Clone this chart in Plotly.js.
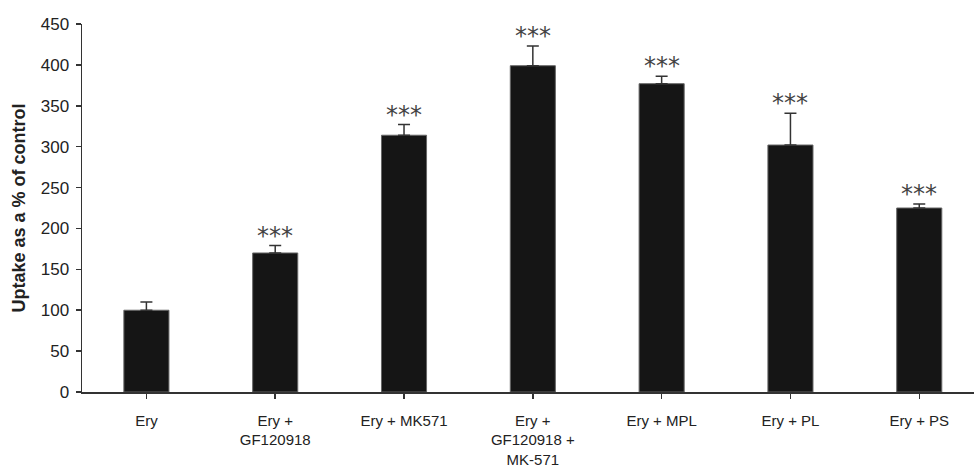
<!DOCTYPE html>
<html>
<head>
<meta charset="utf-8">
<script src="https://cdn.plot.ly/plotly-3.0.1.min.js"></script>
<style>html,body{margin:0;padding:0;background:#fff;}#chart{width:974px;height:472px;}</style>
</head>
<body>
<div id="chart"></div>
<script>
var categories = ["Ery", "Ery +<br>GF120918", "Ery + MK571", "Ery +<br>GF120918 +<br>MK-571", "Ery + MPL", "Ery + PL", "Ery + PS"];
var values = [100, 170, 314, 399, 377, 302, 225];
var errors = [10, 9, 13, 24, 9, 39, 5];
var significance = ["", "***", "***", "***", "***", "***", "***"];
var yTicks = [0, 50, 100, 150, 200, 250, 300, 350, 400, 450];

var idx = categories.map(function(_, i){ return i; });

var trace = {
  type: "bar",
  x: idx,
  y: values,
  width: 0.35,
  marker: {color: "#151515", line: {color: "#666", width: 1}},
  error_y: {type: "data", array: errors, arrayminus: errors.map(function(){return 0;}), symmetric: false, color: "#333", thickness: 1.5, width: 6},
  hoverinfo: "skip"
};

var annotations = [];
for (var i = 0; i < values.length; i++) {
  if (!significance[i]) continue;
  annotations.push({
    x: idx[i], y: values[i] + errors[i], xref: "x", yref: "y",
    text: significance[i], showarrow: false, yanchor: "bottom", yshift: -6,
    font: {family: "DejaVu Sans", size: 24, color: "#444"}
  });
}

var layout = {
  width: 974, height: 472,
  margin: {l: 82, r: 0, t: 24, b: 80},
  paper_bgcolor: "#fff", plot_bgcolor: "#fff",
  showlegend: false,
  font: {family: "Liberation Sans, Arial, sans-serif", size: 16, color: "#222"},
  xaxis: {
    range: [-0.5, 6.425],
    tickmode: "array", tickvals: idx, ticktext: categories,
    showgrid: false, zeroline: false,
    showline: true, linecolor: "#333", linewidth: 1.5,
    ticks: "outside", ticklen: 5, tickcolor: "#333", tickwidth: 1.5,
    tickson: "boundaries",
    ticklabelstandoff: 9,
    tickfont: {size: 15, color: "#222"}
  },
  yaxis: {
    range: [0, 450],
    tickmode: "array", tickvals: yTicks,
    showgrid: false, zeroline: false,
    showline: true, linecolor: "#333", linewidth: 1.5,
    ticks: "outside", ticklen: 5, tickcolor: "#333", tickwidth: 1.5,
    ticklabelstandoff: 3,
    tickfont: {size: 17, color: "#222"},
    title: {text: "<b>Uptake as a % of control</b>", font: {size: 18, color: "#222"}, standoff: 10}
  },
  annotations: annotations
};

Plotly.newPlot("chart", [trace], layout, {displayModeBar: false, staticPlot: true});
</script>
</body>
</html>
